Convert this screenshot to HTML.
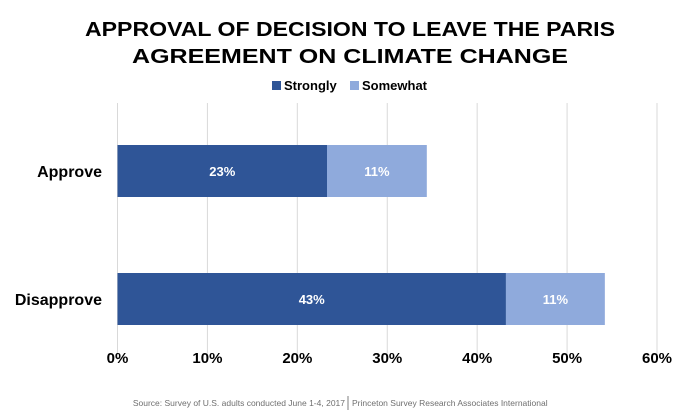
<!DOCTYPE html>
<html><head><meta charset="utf-8"><style>
body{margin:0;background:#fff;}
svg{display:block;font-family:"Liberation Sans",sans-serif;}
</style></head><body>
<svg width="700" height="415" viewBox="0 0 700 415">
<text x="350" y="36" text-anchor="middle" font-size="20" font-weight="bold" fill="#000" textLength="530" lengthAdjust="spacingAndGlyphs">APPROVAL OF DECISION TO LEAVE THE PARIS</text>
<text x="350" y="63" text-anchor="middle" font-size="20" font-weight="bold" fill="#000" textLength="436" lengthAdjust="spacingAndGlyphs">AGREEMENT ON CLIMATE CHANGE</text>
<g>
<rect x="272" y="81" width="9" height="9" fill="#2f5597"/>
<text x="284" y="90" font-size="13" font-weight="bold">Strongly</text>
<rect x="350" y="81" width="9" height="9" fill="#8faadc"/>
<text x="362" y="90" font-size="13" font-weight="bold">Somewhat</text>
</g>
<g id="grid"></g>
<g id="bars"></g>
<g id="ticks"></g>
<text x="345" y="406" text-anchor="end" font-size="8.5" fill="#6f6f6f">Source: Survey of U.S. adults conducted June 1-4, 2017</text>
<line x1="348" y1="396" x2="348" y2="410" stroke="#7f7f7f" stroke-width="1"/>
<text x="352" y="406" font-size="8.5" fill="#6f6f6f">Princeton Survey Research Associates International</text>
</svg>
<script>
const categories=["Approve","Disapprove"];
const strongly=[23.3,43.2];
const somewhat=[11.1,11.0];
const strongLabels=["23%","43%"];
const somewhatLabels=["11%","11%"];
const tickValues=[0,10,20,30,40,50,60];
const tickLabels=["0%","10%","20%","30%","40%","50%","60%"];
const NS="http://www.w3.org/2000/svg";
const x0=117.5,x1=657,xmax=60;
const xs=v=>x0+(x1-x0)*v/xmax;
const yc=i=>171+i*128;
function mk(t,a,p){const e=document.createElementNS(NS,t);for(const k in a)e.setAttribute(k,a[k]);p.appendChild(e);return e;}
const grid=document.getElementById('grid'),bars=document.getElementById('bars'),ticks=document.getElementById('ticks');
tickValues.forEach((v,i)=>{
 const l=mk('line',{x1:xs(v),x2:xs(v),y1:103,y2:360,stroke:'#d9d9d9','stroke-width':1},grid);
 
 
 const t=mk('text',{x:xs(v),y:363,'text-anchor':'middle','font-size':15,'font-weight':'bold'},ticks);
 t.textContent=tickLabels[i];
 
 
});
categories.forEach((c,i)=>{
 const y=yc(i)-26,h=52;
 const a=mk('rect',{x:xs(0),y:y,width:xs(strongly[i])-xs(0),height:h,fill:'#2f5597'},bars);
 
 
 const b=mk('rect',{x:xs(strongly[i]),y:y,width:xs(strongly[i]+somewhat[i])-xs(strongly[i]),height:h,fill:'#8faadc'},bars);
 
 
 const ta=mk('text',{x:(xs(0)+xs(strongly[i]))/2,y:yc(i)+5,'text-anchor':'middle','font-size':13,'font-weight':'bold',fill:'#fff'},bars);
 ta.textContent=strongLabels[i];
 
 
 const tb=mk('text',{x:(xs(strongly[i])+xs(strongly[i]+somewhat[i]))/2,y:yc(i)+5,'text-anchor':'middle','font-size':13,'font-weight':'bold',fill:'#fff'},bars);
 tb.textContent=somewhatLabels[i];
 
 
 const cl=mk('text',{x:102,y:yc(i)+6,'text-anchor':'end','font-size':16,'font-weight':'bold'},bars);
 cl.textContent=c;
 
 
});
</script>
</body></html>
